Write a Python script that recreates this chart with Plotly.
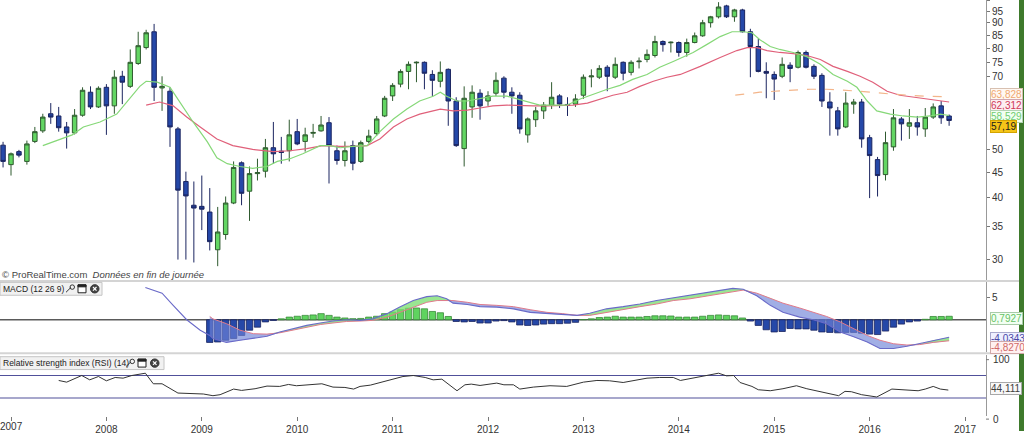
import math
import plotly.graph_objects as go

W, H = 1024, 435
def px(x): return x / W
def py(y): return 1 - y / H

# ---------------- DATA ----------------
# month index: 0 = Jan 2007 (first candle = Dec 2006)
months = list(range(-1, 119))
opens = [51.0,
    46.6, 49.5, 47.3, 51.9, 54.5, 59.0, 58.4, 55.5, 54.0, 58.6, 65.2, 60.9,
    66.7, 61.2, 70.2, 67.0, 74.5, 80.2, 86.3, 66.5, 65.5, 55.0, 43.1, 38.6,
    38.4, 37.4, 31.4, 33.7, 39.0, 47.0, 41.2, 44.7, 45.2, 50.4, 49.6, 49.7,
    54.3, 51.9, 53.9, 54.5, 56.6, 49.7, 47.5, 50.9, 47.3, 51.9, 53.8, 58.4,
    64.1, 67.7, 71.8, 74.7, 74.9, 70.8, 68.6, 72.5, 62.6, 50.2, 60.9, 64.9,
    62.6, 64.9, 69.6, 65.2, 64.3, 53.5, 57.4, 59.8, 61.4, 64.1, 61.6, 61.7,
    64.3, 70.0, 69.9, 73.2, 69.9, 74.9, 71.5, 75.1, 75.9, 77.3, 82.5, 82.0,
    82.1, 78.4, 82.1, 84.7, 90.0, 92.5, 97.3, 92.5, 95.5, 86.3, 80.6, 71.8,
    70.8, 70.2, 73.9, 73.2, 78.4, 73.5, 70.5, 62.3, 59.8, 55.5, 61.7, 62.3,
    52.8, 47.7, 44.5, 50.6, 57.6, 55.7, 56.6, 55.0, 58.1, 61.2, 58.4]
highs = [51.8,
    49.3, 49.9, 52.1, 55.5, 59.0, 62.0, 60.9, 56.8, 60.3, 66.7, 67.0, 67.0,
    67.7, 72.2, 72.0, 79.5, 86.3, 87.1, 89.5, 70.2, 66.7, 55.5, 45.1, 43.1,
    44.3, 41.8, 38.3, 40.2, 47.3, 47.3, 46.2, 47.9, 52.5, 56.8, 53.0, 57.4,
    57.6, 55.3, 56.3, 58.4, 58.1, 50.9, 51.9, 52.1, 52.1, 54.8, 58.4, 64.1,
    68.0, 72.5, 75.2, 75.2, 75.2, 72.2, 75.2, 72.8, 63.7, 67.0, 67.3, 66.1,
    65.5, 71.5, 70.2, 66.7, 65.2, 58.0, 60.9, 62.3, 68.3, 64.6, 63.7, 64.6,
    70.8, 72.5, 73.9, 73.9, 76.6, 75.2, 75.6, 76.6, 79.5, 84.7, 82.9, 82.5,
    82.5, 83.6, 86.0, 91.2, 92.9, 99.0, 97.8, 96.0, 96.0, 87.5, 83.6, 74.9,
    71.8, 76.6, 74.9, 79.1, 79.1, 74.2, 71.2, 65.2, 60.9, 65.2, 63.2, 63.2,
    53.5, 48.3, 54.3, 60.3, 58.1, 60.3, 58.4, 60.6, 61.9, 62.6, 58.8]
lows = [46.0,
    44.3, 48.2, 46.6, 51.5, 54.0, 56.3, 54.3, 50.2, 53.6, 58.2, 60.3, 60.6,
    53.5, 59.0, 61.7, 66.5, 74.0, 79.5, 62.6, 59.8, 50.6, 30.0, 30.0, 29.6,
    34.4, 31.3, 29.1, 32.9, 38.8, 38.6, 35.9, 43.3, 43.9, 46.8, 46.8, 47.3,
    51.0, 49.5, 52.8, 54.3, 42.7, 46.6, 46.2, 45.4, 47.0, 51.5, 53.2, 58.1,
    62.6, 66.7, 66.1, 68.3, 66.1, 64.1, 66.7, 55.8, 50.6, 46.2, 57.9, 57.4,
    61.2, 64.1, 63.4, 59.0, 53.8, 51.6, 55.5, 57.6, 60.3, 60.6, 58.4, 60.9,
    63.2, 66.7, 69.3, 65.5, 69.3, 68.9, 70.5, 72.8, 74.9, 76.6, 78.7, 78.4,
    76.9, 76.9, 81.8, 84.3, 88.0, 91.8, 92.0, 90.4, 86.0, 69.9, 71.5, 63.4,
    62.9, 69.6, 68.3, 72.8, 72.8, 69.3, 60.9, 53.3, 53.3, 55.2, 59.0, 50.4,
    39.9, 40.2, 43.3, 49.7, 52.1, 52.5, 53.3, 53.0, 57.6, 56.3, 55.8]
closes = [47.3,
    49.0, 48.7, 51.3, 54.3, 58.1, 58.1, 55.3, 54.0, 58.6, 65.8, 60.9, 66.4,
    61.2, 69.9, 68.3, 74.9, 80.9, 85.9, 66.7, 67.0, 55.5, 41.4, 40.3, 38.1,
    37.9, 32.6, 34.1, 39.0, 46.0, 40.8, 44.7, 44.9, 50.4, 49.0, 49.3, 53.5,
    51.3, 53.5, 54.1, 56.0, 50.9, 47.5, 49.7, 46.9, 51.6, 53.2, 57.6, 63.4,
    67.3, 71.8, 74.2, 74.9, 71.2, 68.9, 71.5, 62.6, 50.9, 63.4, 65.2, 61.2,
    64.1, 68.9, 65.2, 64.1, 55.0, 57.6, 59.8, 61.4, 63.7, 61.7, 61.3, 63.2,
    69.9, 70.3, 72.8, 70.2, 74.2, 71.2, 74.9, 75.3, 77.7, 82.5, 81.3, 82.2,
    78.4, 82.1, 84.7, 90.0, 92.5, 96.8, 92.5, 95.5, 86.3, 80.6, 71.8, 71.2,
    69.3, 74.2, 72.8, 78.4, 73.2, 70.2, 62.6, 60.6, 55.0, 62.0, 62.3, 52.5,
    48.6, 44.3, 51.6, 57.9, 56.3, 56.6, 55.5, 58.1, 60.9, 57.9, 57.19]

# short moving average (green)
ma_short_m = [4.0, 5.9, 7.7, 9.1, 11.2, 13.3, 15.0, 16.2, 17.0, 18.4, 20.0, 21.5, 22.9, 24.7,
    25.9, 27.2, 28.8, 30.4, 32.2, 33.5, 35.1, 36.7, 38.9, 40.1, 41.4, 43.0, 44.8, 46.4, 48.1,
    49.8, 51.4, 53.1, 54.0, 54.8, 56.1, 57.4, 59.0, 60.6, 62.4, 63.6, 64.9, 66.5, 68.2, 69.9,
    71.6, 73.2, 75.0, 76.6, 78.2, 80.0, 81.6, 83.3, 84.2, 85.8, 87.5, 89.2, 90.7, 92.1, 93.2,
    94.2, 95.5, 96.7, 98.4, 100.1, 101.8, 103.4, 105.2, 106.4, 107.7, 108.9, 110.6, 112.2,
    114.0, 115.6, 116.9, 118.0]
ma_short_v = [50.9, 52.3, 53.5, 55.5, 56.8, 58.9, 63.7, 67.0, 68.6, 68.3, 66.7, 61.2, 56.8, 51.8,
    48.1, 46.8, 46.2, 45.8, 46.2, 47.3, 47.9, 49.0, 50.9, 50.9, 50.4, 50.7, 50.9, 54.3, 57.6,
    60.3, 62.6, 64.0, 65.2, 64.0, 62.6, 62.6, 63.2, 64.0, 64.0, 63.2, 62.3, 61.4, 61.4, 61.4,
    63.2, 64.6, 66.1, 67.3, 69.2, 70.8, 73.2, 75.2, 76.3, 78.4, 81.3, 84.4, 86.3, 86.3, 85.9,
    83.2, 80.6, 79.5, 78.4, 76.9, 74.2, 70.8, 68.6, 66.7, 62.6, 59.8, 58.9, 58.4,
    58.1, 58.4, 58.9, 58.529]

# long moving average (red)
ma_long_m = [17.0, 18.7, 20.4, 22.1, 23.8, 25.9, 27.9, 30.4, 33.0, 35.1, 37.2, 39.2, 41.4, 43.0,
    44.8, 46.4, 48.1, 49.8, 51.4, 53.1, 54.0, 55.6, 57.4, 59.0, 60.6, 62.4, 64.0, 65.7, 67.4,
    69.1, 70.7, 72.5, 74.1, 75.7, 77.5, 79.1, 80.8, 82.5, 84.2, 86.7, 89.2, 91.3, 92.6, 93.8,
    95.1, 96.7, 98.4, 100.1, 101.8, 103.4, 105.2, 106.8, 108.4, 110.2, 111.8, 113.5, 115.2,
    116.9, 118.0]
ma_long_v = [61.4, 62.3, 61.2, 58.1, 55.5, 52.5, 50.9, 50.0, 49.5, 49.7, 50.2, 50.9, 50.7, 50.7,
    50.9, 52.5, 55.5, 57.6, 58.9, 59.8, 60.3, 59.8, 60.0, 60.6, 61.2, 61.4, 61.2, 61.2, 61.2,
    61.2, 61.4, 62.0, 63.2, 64.3, 65.2, 67.0, 68.6, 69.9, 70.8, 73.5, 76.6, 79.1, 80.2, 80.2,
    79.1, 78.4, 78.0, 77.3, 75.9, 73.5, 71.8, 70.2, 68.3, 65.5, 64.3, 63.7, 63.2,
    62.6, 62.312]

# very long moving average (orange dashed)
ma_vlong_m = [91.1, 94.2, 97.5, 100.5, 102.6, 106.8, 110.9, 115.0, 118.0]
ma_vlong_v = [64.3, 65.2, 65.7, 66.1, 66.1, 65.5, 64.6, 64.0, 63.828]

# MACD (12 26 9)
macd_m = [16.9, 19.0, 20.4, 22.1, 23.8, 25.0, 25.4, 27.1, 28.8, 30.5, 32.2, 33.8, 35.5, 37.2, 38.9,
    40.5, 42.2, 43.9, 45.5, 47.3, 48.9, 50.6, 52.3, 53.6, 54.8, 55.6, 57.4, 59.0, 61.1, 63.2,
    65.3, 67.4, 69.4, 71.2, 72.8, 74.9, 77.0, 79.1, 81.2, 83.3, 85.4, 87.5, 89.2, 90.8, 92.1,
    93.8, 95.5, 97.1, 99.2, 100.9, 102.6, 104.3, 106.0, 107.7, 109.3, 111.0, 112.7, 114.3,
    116.0, 117.7, 118.0]
macd_v = [7.4, 6.1, 3.3, 0.0, -2.4, -3.6, -4.3, -5.2, -4.7, -4.3, -3.8, -2.8, -2.0, -1.3, -0.75,
    -0.3, 0.0, -0.15, 0.2, 1.4, 2.9, 4.4, 5.3, 5.5, 4.8, 3.8, 3.5, 3.0, 2.9, 2.5,
    1.7, 1.4, 1.1, 1.0, 1.5, 2.5, 3.0, 3.6, 4.4, 5.0, 5.5, 6.1, 6.7, 7.2, 7.0,
    5.5, 3.3, 1.7, 0.6, 0.0, -0.9, -2.8, -3.9, -5.1, -6.6, -6.6, -6.1, -5.5,
    -4.7, -4.2, -4.0343]
signal_m = macd_m[5:]
signal_v = [0.75, 0.2, -0.9, -2.4, -3.2, -3.3, -3.0, -2.4, -1.7, -1.1,
    -0.75, -0.4, -0.3, -0.15, 0.6, 1.7, 3.0, 4.0, 4.4, 4.5,
    4.4, 4.0, 3.5, 3.3, 3.0, 2.3, 1.7, 1.4, 1.0, 1.0,
    1.7, 2.3, 3.0, 3.6, 4.4, 4.8, 5.4, 5.9, 6.5, 6.8,
    6.1, 5.0, 3.8, 2.7, 1.7, 0.75, -0.5, -2.0, -3.6, -4.7,
    -5.5, -5.8, -5.7, -5.2, -4.85, -4.827]
hist_m = list(range(25, 119))
hist_v = [-5.2, -5.1, -4.7, -4.3, -3.6, -2.4, -1.7, -0.5, -0.15, 0.2, 0.6,
    0.8, 1.0, 1.1, 1.4, 1.0, 0.6, 0.4, 0.25, 0.3, 0.6, 0.8, 1.4,
    1.75, 2.3, 2.65, 2.7, 2.5, 1.9, 1.6, 0.75, -0.4, -0.5, -0.4, -0.75,
    -0.75, -0.3, -0.2, -0.5, -1.2, -1.3, -1.2, -1.0, -0.9, -0.9, -0.8, -0.6,
    0.05, 0.2, 0.5, 0.6, 0.8, 0.6, 0.6, 0.6, 0.75, 0.9, 0.9, 0.85,
    0.6, 0.6, 0.6, 0.8, 1.0, 1.1, 1.0, 0.9, 0.4, -0.3, -1.3, -2.3,
    -2.8, -2.7, -2.0, -2.1, -2.1, -2.4, -2.8, -2.9, -3.0, -2.9, -2.9, -3.1,
    -3.3, -3.4, -2.6, -1.7, -1.0, -0.5, -0.3, 0.1, 0.75, 0.75, 0.7927]

# RSI (14)
rsi_m = [6.0, 7.0, 8.9, 9.9, 11.0, 12.0, 13.1, 14.1, 15.2, 16.9, 17.9, 19.0, 21.0, 22.9, 24.2,
    25.4, 26.3, 28.0, 29.0, 30.7, 32.2, 33.8, 34.9, 35.9, 37.8, 39.1, 40.5, 42.0, 43.1, 43.9,
    45.2, 46.8, 48.3, 49.3, 50.6, 52.1, 53.1, 54.2, 56.1, 57.1, 57.9, 59.0, 61.1, 62.0, 63.2,
    64.0, 65.7, 67.8, 69.9, 72.0, 73.7, 75.3, 77.0, 78.3, 80.0, 81.6, 83.3, 84.2, 85.8, 87.1,
    89.0, 90.0, 90.9, 91.7, 93.2, 94.0, 95.5, 97.1, 98.8, 100.1, 101.3, 102.2, 104.1, 104.9,
    105.7, 107.0, 108.9, 110.8, 112.5, 114.1, 115.0, 116.0, 116.9, 117.9]
rsi_v = [61.2, 58.2, 70.0, 62.3, 68.2, 60.6, 66.5, 65.3, 70.0, 74.1, 55.3, 55.3, 38.8, 37.6, 37.1,
    34.1, 35.9, 45.9, 43.5, 46.5, 51.2, 50.6, 54.1, 51.8, 54.1, 55.3, 49.4, 48.8, 45.9, 50.6,
    52.9, 59.4, 65.3, 68.2, 70.0, 66.5, 62.3, 63.5, 42.9, 53.5, 54.7, 52.3, 56.5, 53.5, 53.5,
    45.9, 49.4, 51.8, 50.6, 58.2, 61.2, 60.6, 57.6, 61.2, 65.3, 66.5, 66.5, 61.2, 65.3, 69.4,
    74.1, 69.4, 70.0, 57.6, 50.6, 44.7, 42.9, 46.5, 51.8, 46.5, 42.9, 40.0, 34.1, 41.8,
    41.2, 35.9, 31.8, 45.9, 44.7, 42.9, 45.9, 50.6, 45.9, 44.111]

years = [str(y) for y in range(2007, 2018)]
year_ticks = [12 * i for i in range(11)]
price_ticks = [30, 35, 40, 45, 50, 70, 75, 80, 85, 90, 95, 100]

# ---------------- FIGURE ----------------
FONT = "Liberation Sans, Arial, sans-serif"
fig = go.Figure()

fig.add_trace(go.Candlestick(
    x=months, open=opens, high=highs, low=lows, close=closes,
    increasing=dict(fillcolor="#63d663", line=dict(color="#2f5a2f", width=1)),
    decreasing=dict(fillcolor="#2548a8", line=dict(color="#1b2560", width=1)),
    whiskerwidth=0, xaxis="x", yaxis="y", hoverinfo="skip", showlegend=False))

fig.add_trace(go.Scatter(x=ma_long_m, y=ma_long_v, mode="lines",
    line=dict(color="#e0607a", width=1.2), xaxis="x", yaxis="y", hoverinfo="skip"))
fig.add_trace(go.Scatter(x=ma_short_m, y=ma_short_v, mode="lines",
    line=dict(color="#86d878", width=1.2), xaxis="x", yaxis="y", hoverinfo="skip"))
fig.add_trace(go.Scatter(x=ma_vlong_m, y=ma_vlong_v, mode="lines",
    line=dict(color="#f3b58a", width=1.2, dash="dash"), xaxis="x", yaxis="y", hoverinfo="skip"))

# MACD histogram
fig.add_trace(go.Bar(x=hist_m, y=hist_v, width=0.8,
    marker=dict(color=["#5fd35f" if v >= 0 else "#2548a8" for v in hist_v],
                line=dict(color=["#3a8a3a" if v >= 0 else "#1b2560" for v in hist_v], width=0.8)),
    xaxis="x", yaxis="y2", hoverinfo="skip"))

# MACD / signal fills
mac_f = macd_v[5:]
upper = [max(a, b) for a, b in zip(mac_f, signal_v)]
lower = [min(a, b) for a, b in zip(mac_f, signal_v)]
fig.add_trace(go.Scatter(x=signal_m, y=signal_v, mode="lines", line=dict(width=0),
    xaxis="x", yaxis="y2", hoverinfo="skip"))
fig.add_trace(go.Scatter(x=signal_m, y=upper, mode="lines", line=dict(width=0),
    fill="tonexty", fillcolor="rgba(120,222,110,0.75)", xaxis="x", yaxis="y2", hoverinfo="skip"))
fig.add_trace(go.Scatter(x=signal_m, y=signal_v, mode="lines", line=dict(width=0),
    xaxis="x", yaxis="y2", hoverinfo="skip"))
fig.add_trace(go.Scatter(x=signal_m, y=lower, mode="lines", line=dict(width=0),
    fill="tonexty", fillcolor="rgba(110,130,215,0.65)", xaxis="x", yaxis="y2", hoverinfo="skip"))
fig.add_trace(go.Scatter(x=signal_m, y=signal_v, mode="lines",
    line=dict(color="#e07a8a", width=1), xaxis="x", yaxis="y2", hoverinfo="skip"))
fig.add_trace(go.Scatter(x=macd_m, y=macd_v, mode="lines",
    line=dict(color="#6a6ac8", width=1.1), xaxis="x", yaxis="y2", hoverinfo="skip"))

# RSI
fig.add_trace(go.Scatter(x=rsi_m, y=rsi_v, mode="lines",
    line=dict(color="#333333", width=1), xaxis="x", yaxis="y3", hoverinfo="skip"))

shapes = []
# MACD zero line, RSI 70/30 lines
shapes.append(dict(type="line", xref="paper", yref="y2", x0=0, x1=px(986), y0=0, y1=0,
                   line=dict(color="#5a5a5a", width=1.5), layer="below"))
for lvl in (70, 30):
    shapes.append(dict(type="line", xref="paper", yref="y3", x0=0, x1=px(986), y0=lvl, y1=lvl,
                       line=dict(color="#50509a", width=1.2), layer="below"))
# panel separators
for yy in (283.5, 356.5):
    shapes.append(dict(type="line", xref="paper", yref="paper", x0=0, x1=px(1019),
                       y0=py(yy), y1=py(yy), line=dict(color="#d4d4d4", width=2)))
# right green strip
shapes.append(dict(type="rect", xref="paper", yref="paper", x0=px(1019), x1=1, y0=0, y1=1,
                   fillcolor="#3e7a2c", line=dict(width=0)))
# RSI axis tick marks for 100 / 0 labels
for yy in (363, 423):
    shapes.append(dict(type="line", xref="paper", yref="paper", x0=px(986), x1=px(989),
                       y0=py(yy), y1=py(yy), line=dict(color="#777", width=1)))

def header(x1, y0, y1, icon_x):
    s = [dict(type="rect", xref="paper", yref="paper", x0=0, x1=px(x1), y0=py(y1), y1=py(y0),
              fillcolor="#f1f1f1", line=dict(color="#c4c4c4", width=1))]
    cy = (y0 + y1) / 2
    wx = icon_x
    # wrench
    s.append(dict(type="line", xref="paper", yref="paper", x0=px(wx), y0=py(cy + 3.5),
                  x1=px(wx + 5), y1=py(cy - 1.5), line=dict(color="#333", width=1)))
    s.append(dict(type="circle", xref="paper", yref="paper", x0=px(wx + 4), x1=px(wx + 8.5),
                  y0=py(cy + 0.5), y1=py(cy - 4), line=dict(color="#333", width=1)))
    # window icon
    s.append(dict(type="rect", xref="paper", yref="paper", x0=px(wx + 12), x1=px(wx + 20),
                  y0=py(cy + 4), y1=py(cy - 4), line=dict(color="#222", width=1), fillcolor="white"))
    s.append(dict(type="rect", xref="paper", yref="paper", x0=px(wx + 12), x1=px(wx + 20),
                  y0=py(cy - 2), y1=py(cy - 4), line=dict(color="#222", width=1), fillcolor="#222"))
    # close icon
    s.append(dict(type="circle", xref="paper", yref="paper", x0=px(wx + 24.5), x1=px(wx + 33),
                  y0=py(cy + 4.2), y1=py(cy - 4.2), line=dict(color="#333", width=1), fillcolor="#444"))
    s.append(dict(type="line", xref="paper", yref="paper", x0=px(wx + 27), x1=px(wx + 30.5),
                  y0=py(cy + 1.8), y1=py(cy - 1.8), line=dict(color="white", width=1.2)))
    s.append(dict(type="line", xref="paper", yref="paper", x0=px(wx + 27), x1=px(wx + 30.5),
                  y0=py(cy - 1.8), y1=py(cy + 1.8), line=dict(color="white", width=1.2)))
    return s

shapes += header(102, 285, 298, 66)
shapes += header(164, 360, 373, 126)

ann = []
ann.append(dict(text="© ProRealTime.com  <i>Données en fin de journée</i>", x=px(0), y=py(277),
                xref="paper", yref="paper", xanchor="left", yanchor="middle", showarrow=False,
                font=dict(size=9.5, color="#444", family=FONT)))
ann.append(dict(text="MACD (12 26 9)", x=px(1), y=py(291.5), xref="paper", yref="paper",
                xanchor="left", yanchor="middle", showarrow=False, font=dict(size=8.5, color="#222", family=FONT)))
ann.append(dict(text="Relative strength index (RSI) (14)", x=px(1), y=py(366.5), xref="paper", yref="paper",
                xanchor="left", yanchor="middle", showarrow=False, font=dict(size=8.5, color="#222", family=FONT)))
# first year label (plotly hides it at the left edge)
ann.append(dict(text=years[0], x=year_ticks[0], y=py(430), xref="x", yref="paper",
                xanchor="center", yanchor="middle", showarrow=False,
                font=dict(size=10, color="#333", family=FONT)))
# RSI axis labels
for txt, yy in (("100", 363), ("0", 423)):
    ann.append(dict(text=txt, x=px(991), y=py(yy), xref="paper", yref="paper", xanchor="left",
                    yanchor="middle", showarrow=False, font=dict(size=10, color="#333", family=FONT)))

def vlabel(text, y, fg, bg, bc):
    return dict(text=text, x=px(990), y=py(y), xref="paper", yref="paper", xanchor="left",
                yanchor="middle", showarrow=False, bgcolor=bg, bordercolor=bc, borderwidth=1,
                borderpad=0, font=dict(size=10, color=fg, family=FONT))

ann += [
    vlabel("63,828", 95, "#f0a870", "#fff8f2", "#d8c0b0"),
    vlabel("62,312", 106, "#d03858", "#fdeef1", "#d0a8b0"),
    vlabel("58,529", 117.5, "#70cc70", "#f2fff2", "#b4d4b4"),
    vlabel("57,19", 127.5, "#1a1a1a", "#f5c518", "#d4a400"),
    vlabel("0,7927", 321, "#66c266", "#f2fff2", "#a8cca8"),
    vlabel("-4,0343", 341.5, "#4646a6", "#eef0ff", "#a8a8cc"),
    vlabel("-4,8270", 350.5, "#d06868", "#fff0f0", "#d0a8a8"),
    vlabel("44,111", 392, "#404040", "#f8f8f8", "#a8a8a8"),
]

axis_common = dict(side="right", anchor="x", showgrid=False, zeroline=False, showline=True,
                   linecolor="#999", linewidth=1, ticks="outside", ticklen=3, tickcolor="#777",
                   tickfont=dict(size=10, color="#333", family=FONT), fixedrange=True)

fig.update_layout(
    width=W, height=H, margin=dict(l=0, r=0, t=0, b=0),
    paper_bgcolor="white", plot_bgcolor="white", showlegend=False,
    font=dict(family=FONT, size=10, color="#333"),
    boxgap=0.2, bargap=0.2,
    xaxis=dict(domain=[0, px(986)], range=[-1.384, 122.64], anchor="y3",
               tickvals=year_ticks, ticktext=years, ticks="outside", ticklen=4, tickcolor="#777",
               tickfont=dict(size=10, color="#333", family=FONT),
               showgrid=False, zeroline=False, showline=False,
               rangeslider=dict(visible=False), fixedrange=True),
    yaxis=dict(domain=[py(283), 1], type="log", range=[math.log10(27.24), 2.0],
               tickvals=price_ticks, **axis_common),
    yaxis2=dict(domain=[py(355), py(285)], range=[-7.34, 8.57], tickvals=[5], **axis_common),
    yaxis3=dict(domain=[py(420), py(358)], range=[-2.25, 107], tickvals=[], **axis_common),
    shapes=shapes, annotations=ann,
)

fig.write_html("out.html", config={"displayModeBar": False})
